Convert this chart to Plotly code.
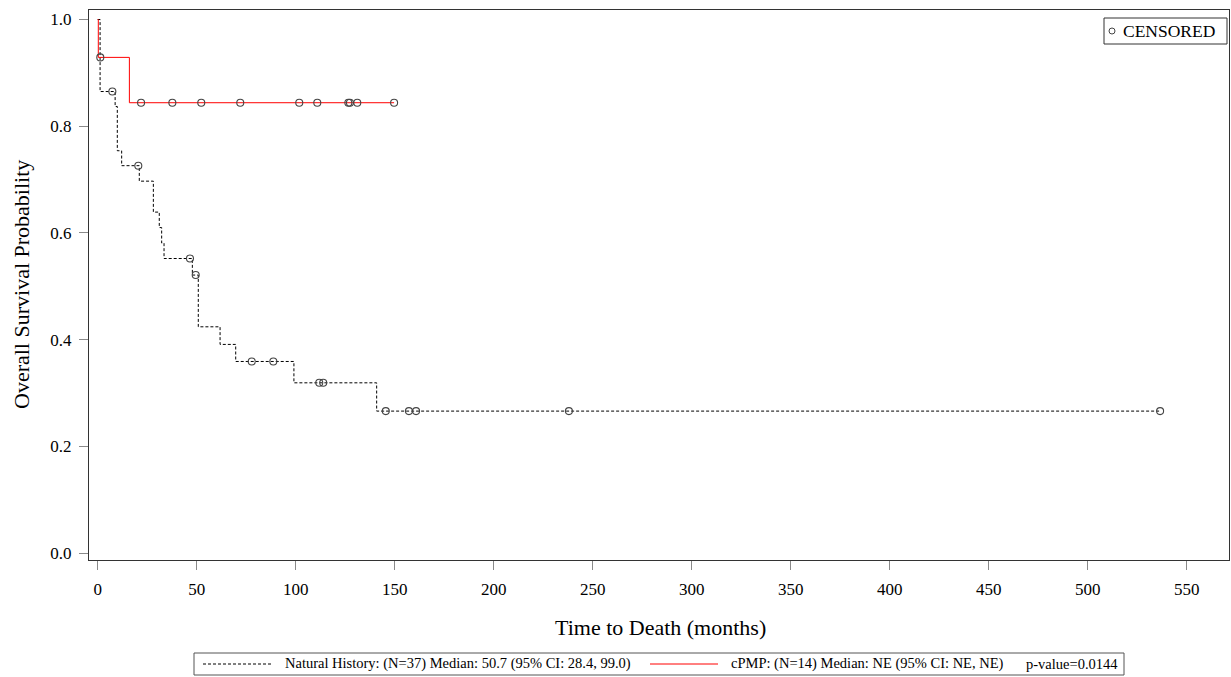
import plotly.graph_objects as go

# ---- Kaplan-Meier estimates -------------------------------------------------
# Natural History arm (N=37): step times (months) and survival after each step
nh_time = [0, 1.2, 8.8, 9.9, 12.1, 21.0, 28.1, 31.1, 32.3, 33.5, 47.8, 50.8,
           61.8, 69.7, 99.1, 140.9, 536.6]
nh_surv = [1.0, 0.865, 0.837, 0.754, 0.726, 0.697, 0.639, 0.610, 0.581, 0.552,
           0.521, 0.424, 0.391, 0.359, 0.319, 0.266, 0.266]
# Natural History censoring times
nh_cens_time = [7.4, 20.5, 46.6, 49.5, 77.8, 88.7, 111.9, 113.9, 145.5, 157.2,
                160.8, 238.0, 536.6]
nh_cens_surv = [0.865, 0.726, 0.552, 0.521, 0.359, 0.359, 0.319, 0.319, 0.266,
                0.266, 0.266, 0.266, 0.266]

# cPMP arm (N=14)
cp_time = [0, 0.3, 16.0, 149.7]
cp_surv = [1.0, 0.929, 0.844, 0.844]
cp_cens_time = [1.3, 21.9, 37.7, 52.3, 72.0, 101.8, 110.9, 126.6, 127.4, 131.1, 149.7]
cp_cens_surv = [0.929, 0.844, 0.844, 0.844, 0.844, 0.844, 0.844, 0.844, 0.844,
                0.844, 0.844]

x_ticks = [0, 50, 100, 150, 200, 250, 300, 350, 400, 450, 500, 550]
y_ticks = [0.0, 0.2, 0.4, 0.6, 0.8, 1.0]

x_title = "Time to Death (months)"
y_title = "Overall Survival Probability"
nh_legend = "Natural History: (N=37) Median: 50.7 (95% CI: 28.4, 99.0)"
cp_legend = "cPMP: (N=14) Median: NE (95% CI: NE, NE)"
p_text = "p-value=0.0144"

SERIF = "Liberation Serif, Times New Roman, serif"
W, H = 1231, 677
ML, MR, MT, MB = 89, 2, 10, 117
PW, PH = W - ML - MR, H - MT - MB


def px(x):
    """Page pixel x -> paper coordinate."""
    return (x - ML) / PW


def py(y):
    """Page pixel y -> paper coordinate."""
    return (H - MB - y) / PH


marker_style = dict(symbol="circle-open", size=7, color="#444444",
                    line=dict(width=1.1, color="#444444"))

fig = go.Figure()
fig.add_trace(go.Scatter(x=nh_time, y=nh_surv, mode="lines", line_shape="hv",
                         line=dict(color="#000000", width=1, dash="3px,2px"),
                         showlegend=False, hoverinfo="skip"))
fig.add_trace(go.Scatter(x=cp_time, y=cp_surv, mode="lines", line_shape="hv",
                         line=dict(color="#ff0000", width=1),
                         showlegend=False, hoverinfo="skip"))
fig.add_trace(go.Scatter(x=nh_cens_time, y=nh_cens_surv, mode="markers",
                         marker=marker_style, showlegend=False))
fig.add_trace(go.Scatter(x=cp_cens_time, y=cp_cens_surv, mode="markers",
                         marker=marker_style, showlegend=False))

shapes = []
annotations = []

# axis titles
annotations.append(dict(text=x_title, xref="paper", yref="paper",
                        x=px(660), y=py(627), xanchor="center", yanchor="middle",
                        showarrow=False,
                        font=dict(family=SERIF, size=22, color="black")))
annotations.append(dict(text=y_title, xref="paper", yref="paper", textangle=-90,
                        x=px(21), y=py(285), xanchor="center", yanchor="middle",
                        showarrow=False,
                        font=dict(family=SERIF, size=22, color="black")))

# censoring key (top right)
shapes.append(dict(type="rect", xref="paper", yref="paper",
                   x0=px(1104), x1=px(1227), y0=py(18), y1=py(44),
                   line=dict(color="#333333", width=1), fillcolor="white"))
shapes.append(dict(type="circle", xref="paper", yref="paper",
                   x0=px(1109), x1=px(1115), y0=py(28), y1=py(34),
                   line=dict(color="#444444", width=1)))
annotations.append(dict(text="CENSORED", xref="paper", yref="paper",
                        x=px(1121), y=py(31), xanchor="left", yanchor="middle",
                        showarrow=False,
                        font=dict(family=SERIF, size=17.5, color="black")))

# group key (bottom, centred under the plot)
shapes.append(dict(type="rect", xref="paper", yref="paper",
                   x0=px(194), x1=px(1124), y0=py(653), y1=py(675),
                   line=dict(color="#555555", width=1)))
shapes.append(dict(type="line", xref="paper", yref="paper",
                   x0=px(203), x1=px(272), y0=py(664), y1=py(664),
                   line=dict(color="#000000", width=1, dash="3px,2px")))
shapes.append(dict(type="line", xref="paper", yref="paper",
                   x0=px(650), x1=px(718), y0=py(664), y1=py(664),
                   line=dict(color="#ff0000", width=1)))
for txt, x0 in [(nh_legend, 283), (cp_legend, 729), (p_text, 1024)]:
    annotations.append(dict(text=txt, xref="paper", yref="paper",
                            x=px(x0), y=py(664), xanchor="left", yanchor="middle",
                            showarrow=False,
                            font=dict(family=SERIF, size=14.5, color="black")))

fig.update_layout(
    width=W, height=H,
    margin=dict(l=ML, r=MR, t=MT, b=MB),
    paper_bgcolor="white", plot_bgcolor="white",
    shapes=shapes, annotations=annotations,
    xaxis=dict(range=[-4.4, 571.4], tickvals=x_ticks,
               ticktext=[str(v) for v in x_ticks],
               showline=True, linecolor="#333333", linewidth=1, mirror=True,
               ticks="outside", ticklen=9, tickcolor="#8a8a8a",
               ticklabelstandoff=5,
               showgrid=False, zeroline=False,
               tickfont=dict(family=SERIF, size=17, color="black")),
    yaxis=dict(range=[-0.0131, 1.0178], tickvals=y_ticks,
               ticktext=[f"{v:.1f}" for v in y_ticks],
               showline=True, linecolor="#333333", linewidth=1, mirror=True,
               ticks="outside", ticklen=9, tickcolor="#8a8a8a",
               ticklabelstandoff=4,
               showgrid=False, zeroline=False,
               tickfont=dict(family=SERIF, size=17, color="black")),
)

fig.write_html("out.html")
